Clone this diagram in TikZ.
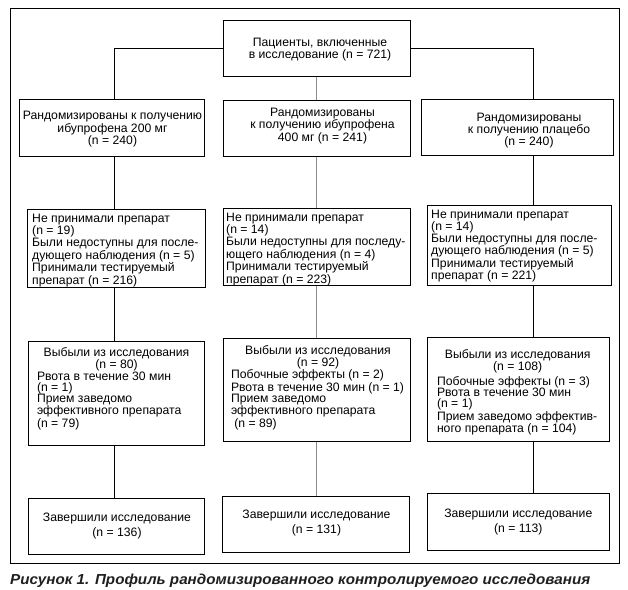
\documentclass[tikz,border=0pt]{standalone}
\usepackage{fontspec}
\setmainfont{Liberation Sans}
\newcommand\cenline[1]{\hbox to\hsize{\hss#1\hss}}
\newcommand\lefline[1]{\hbox to\hsize{#1\hss}}
\newcommand\mblock[2]{\vbox{\hsize=#1\relax #2}}
\begin{document}
\begin{tikzpicture}[x=1pt,y=-1pt,
  box/.style={draw=black, line width=0.9pt, inner sep=0pt, anchor=north west},
  txt/.style={inner sep=0pt, font=\fontsize{12.2}{10.5}\selectfont, text=black},
  ctxt/.style={txt, align=center, anchor=north},
  ltxt/.style={txt, align=left, anchor=north west},
  mtxt/.style={inner sep=0pt, font=\fontsize{12.2}{11.2}\selectfont, text=black, anchor=north},
  conn/.style={line width=0.9pt, draw=black},
  gconn/.style={line width=0.9pt, draw=black!45}]
\useasboundingbox (0,0) rectangle (628,589);
% frame
\node[box, minimum width=609pt, minimum height=555pt] (frame) at (10,8) {};
% column coordinates
\coordinate (cA) at (114,0);
\coordinate (cB) at (316,0);
\coordinate (cC) at (533,0);
% boxes
\node[box, minimum width=187pt, minimum height=56pt] (top) at (223,20) {};
\node[box, minimum width=185pt, minimum height=57pt] (l2a) at (19,99) {};
\node[box, minimum width=187pt, minimum height=56pt] (l2b) at (223,100) {};
\node[box, minimum width=192pt, minimum height=56pt] (l2c) at (421,99) {};
\node[box, minimum width=178pt, minimum height=78pt] (l3a) at (27,209) {};
\node[box, minimum width=187pt, minimum height=77pt] (l3b) at (223,208) {};
\node[box, minimum width=184pt, minimum height=80pt] (l3c) at (427,205) {};
\node[box, minimum width=176pt, minimum height=104pt] (l4a) at (28,341) {};
\node[box, minimum width=187pt, minimum height=103pt] (l4b) at (223,338) {};
\node[box, minimum width=182pt, minimum height=104pt] (l4c) at (427,337) {};
\node[box, minimum width=176pt, minimum height=56pt] (l5a) at (28,498) {};
\node[box, minimum width=187pt, minimum height=56pt] (l5b) at (222,496) {};
\node[box, minimum width=182pt, minimum height=57pt] (l5c) at (427,493) {};
% connectors
\draw[conn] (top.west) -- (top.west -| cA) -- (l2a.north -| cA);
\draw[conn] (top.east) -- (top.east -| cC) -- (l2c.north -| cC);
\draw[gconn] (top.south -| cB) -- (l2b.north -| cB);
\draw[conn] (l2a.south -| cA) -- (l3a.north -| cA);
\draw[conn] (l3a.south -| cA) -- (l4a.north -| cA);
\draw[conn] (l4a.south -| cA) -- (l5a.north -| cA);
\draw[gconn] (l2b.south -| cB) -- (l3b.north -| cB);
\draw[gconn] (l3b.south -| cB) -- (l4b.north -| cB);
\draw[gconn] (l4b.south -| cB) -- (l5b.north -| cB);
\draw[conn] (l2c.south -| cC) -- (l3c.north -| cC);
\draw[conn] (l3c.south -| cC) -- (l4c.north -| cC);
\draw[conn] (l4c.south -| cC) -- (l5c.north -| cC);
% texts
\node[ctxt] (tTop) at (320,37.8) {Пациенты, включенные\\в исследование (n = 721)};
\node[ctxt] (t2a) at (112.5,111.2) {Рандомизированы к получению\\ибупрофена 200 мг\\(n = 240)};
\node[ctxt] (t2b) at (322.5,107.8) {Рандомизированы\\к получению ибупрофена\\400 мг (n = 241)};
\node[ctxt] (t2c) at (529,112.5) {Рандомизированы\\к получению плацебо\\(n = 240)};
\node[ltxt] (t3a) at (32,214) {Не принимали препарат\\(n = 19)\\Были недоступны для после-\\дующего наблюдения (n = 5)\\Принимали тестируемый\\препарат (n = 216)};
\node[ltxt] (t3b) at (226,213) {Не принимали препарат\\(n = 14)\\Были недоступны для последу-\\ющего наблюдения (n = 4)\\Принимали тестируемый\\препарат (n = 223)};
\node[ltxt] (t3c) at (431,209.5) {Не принимали препарат\\(n = 14)\\Были недоступны для после-\\дующего наблюдения (n = 5)\\Принимали тестируемый\\препарат (n = 221)};
\node[mtxt] (t4a) at (116.5,347.5) {\mblock{159pt}{\cenline{Выбыли из исследования}\cenline{(n = 80)}\lefline{Рвота в течение 30 мин}\lefline{(n = 1)}\lefline{Прием заведомо}\lefline{эффективного препарата}\lefline{(n = 79)}}};
\node[mtxt] (t4b) at (318,345) {\mblock{174pt}{\cenline{Выбыли из исследования}\cenline{(n = 92)}\lefline{Побочные эффекты (n = 2)}\lefline{Рвота в течение 30 мин (n = 1)}\lefline{Прием заведомо}\lefline{эффективного препарата}\lefline{\ (n = 89)}}};
\node[mtxt] (t4c) at (517.7,349.5) {\mblock{161.4pt}{\cenline{Выбыли из исследования}\cenline{(n = 108)}\vskip2pt\lefline{Побочные эффекты (n = 3)}\lefline{Рвота в течение 30 мин}\lefline{(n = 1)}\lefline{Прием заведомо эффектив-}\lefline{ного препарата (n = 104)}}};
\node[ctxt, font=\fontsize{12.2}{15}\selectfont] (t5a) at (117,512.5) {Завершили исследование\\(n = 136)};
\node[ctxt, font=\fontsize{12.2}{15}\selectfont] (t5b) at (316.5,510.2) {Завершили исследование\\(n = 131)};
\node[ctxt, font=\fontsize{12.2}{15}\selectfont] (t5c) at (518.3,508.5) {Завершили исследование\\(n = 113)};
% caption
\node[inner sep=0pt, anchor=base west, text=black!88] (cap) at (10,584)
  {\resizebox{580pt}{10.5pt}{\bfseries\itshape Рисунок 1. Профиль рандомизированного контролируемого исследования}};
\end{tikzpicture}
\end{document}
